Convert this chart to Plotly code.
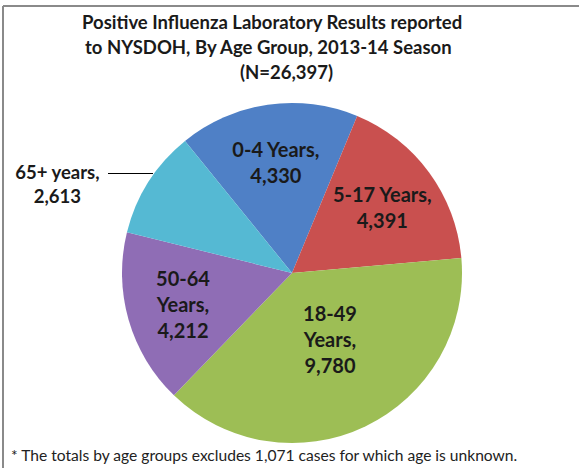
import plotly.graph_objects as go

W, H = 579, 468

age_groups = ["0-4 Years", "5-17 Years", "18-49 Years", "50-64 Years", "65+ years"]
cases = [4330, 4391, 9780, 4212, 2613]
label_text = ["0-4 Years,<br>4,330", "5-17 Years,<br>4,391", "18-49<br>Years,<br>9,780<br>\u00a0",
              "50-64<br>Years,<br>4,212",
              "\u00a0<br>65+ years," + "\u00a0" * 7 + "<br>2,613" + "\u00a0" * 7]
slice_colors = ["#4F80C6", "#C9504F", "#9DBE55", "#8F6DB5", "#55B9D3"]

title_lines = ["Positive Influenza Laboratory Results reported",
               "to NYSDOH, By Age Group, 2013-14 Season",
               "(N=26,397)"]
title_x = [272, 268, 286]
footnote = "* The totals by age groups excludes 1,071 cases for which age is unknown."

cx, cy, r = 292, 273, 170  # pixel centre/radius of pie

fig = go.Figure(go.Pie(
    labels=age_groups,
    values=cases,
    text=label_text,
    textinfo="text",
    textposition=["inside", "inside", "inside", "inside", "outside"],
    insidetextorientation="horizontal",
    sort=False,
    direction="clockwise",
    rotation=-39,
    marker=dict(colors=slice_colors, line=dict(width=0)),
    textfont=dict(family="Lato", size=20, color="#1a1a1a", weight="bold"),
    outsidetextfont=dict(family="Lato", size=18.5, color="#1a1a1a", weight="bold"),
    hoverinfo="label+value",
    showlegend=False,
    domain=dict(x=[(cx - r) / W, (cx + r) / W], y=[(H - cy - r) / H, (H - cy + r) / H]),
))

annotations = []
for i, line in enumerate(title_lines):
    annotations.append(dict(text=line, xref="paper", yref="paper", x=title_x[i] / W, y=1 - (22 + 25 * i) / H,
                            xanchor="center", yanchor="middle", showarrow=False,
                            font=dict(family="Lato", size=18.5, color="#1a1a1a", weight="bold")))
annotations.append(dict(text=footnote, xref="paper", yref="paper", x=9 / W, y=1 - 455 / H,
                        xanchor="left", yanchor="middle", showarrow=False,
                        font=dict(family="Lato", size=15.6, color="#222")))

fig.update_layout(
    width=W, height=H,
    margin=dict(l=0, r=0, t=0, b=0),
    paper_bgcolor="white",
    annotations=annotations,
    shapes=[
        dict(type="line", xref="paper", yref="paper", x0=3 / W, x1=1, y0=1 - 6 / H, y1=1 - 6 / H,
             line=dict(color="#8a8a8a", width=2)),
        dict(type="line", xref="paper", yref="paper", x0=3 / W, x1=3 / W, y0=0, y1=1 - 6 / H,
             line=dict(color="#8a8a8a", width=2)),
        dict(type="line", xref="paper", yref="paper", x0=108 / W, x1=153 / W,
             y0=1 - 173.5 / H, y1=1 - 173.5 / H, line=dict(color="#000000", width=1)),
    ],
)

fig.write_html("out.html", config={"displayModeBar": False},
               post_script="document.body.style.margin='0';")
